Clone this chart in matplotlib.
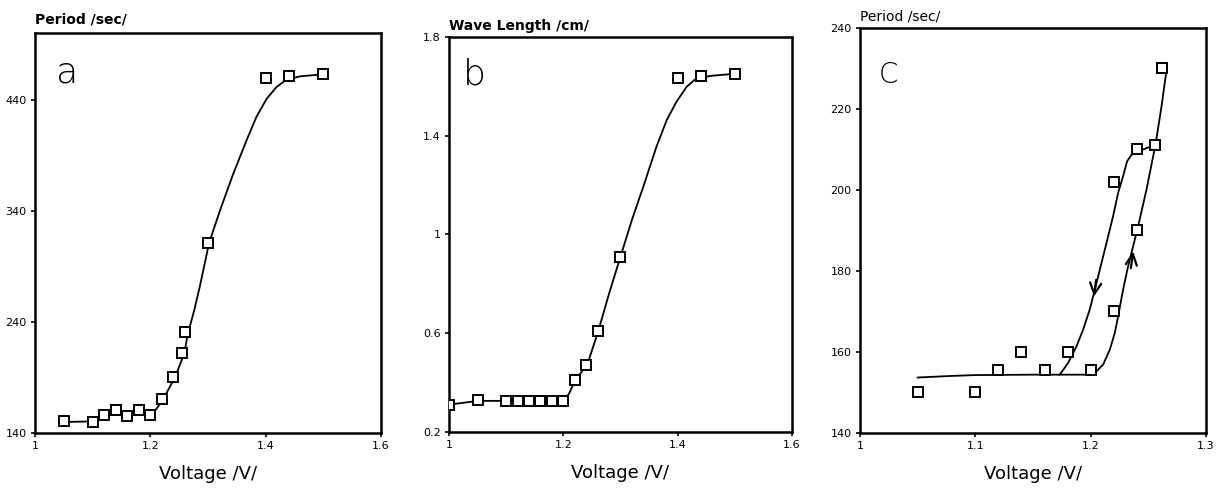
import matplotlib
matplotlib.use("Agg")
import matplotlib.pyplot as plt

# panel a: period vs voltage
a_volt = [1.05, 1.10, 1.12, 1.14, 1.16, 1.18, 1.20, 1.22, 1.24, 1.255, 1.26, 1.30, 1.40, 1.44, 1.50]
a_period = [150.5, 150, 156, 161, 155, 161, 156, 171, 190, 212, 231, 311, 459.5, 461, 463]
a_fit_volt = [1.051, 1.102, 1.121, 1.142, 1.161, 1.183, 1.202, 1.211, 1.223, 1.243, 1.259, 1.265,
              1.276, 1.286, 1.302, 1.321, 1.344, 1.367, 1.384, 1.402, 1.419, 1.436, 1.460, 1.499]
a_fit_period = [149.9, 150.5, 155.9, 158.9, 157.4, 158.6, 157.4, 161.9, 170.9, 190.4, 211.4, 229,
                250, 272, 311, 340.4, 373.4, 403.4, 424.4, 440.9, 451.4, 458, 461, 462.8]

# panel b: wave length vs voltage
b_volt = [1.00, 1.05, 1.10, 1.12, 1.14, 1.16, 1.18, 1.20, 1.22, 1.24, 1.26, 1.30, 1.40, 1.44, 1.50]
b_wave = [0.311, 0.328, 0.326, 0.326, 0.326, 0.326, 0.326, 0.326, 0.41, 0.473, 0.608, 0.91, 1.633, 1.643, 1.651]
b_fit_volt = [1.001, 1.051, 1.10, 1.15, 1.20, 1.21, 1.221, 1.242, 1.261, 1.28, 1.30, 1.32, 1.34,
              1.363, 1.381, 1.398, 1.416, 1.433, 1.46, 1.50]
b_fit_wave = [0.311, 0.326, 0.326, 0.326, 0.326, 0.355, 0.41, 0.473, 0.608, 0.76, 0.91, 1.059, 1.194,
              1.356, 1.464, 1.538, 1.599, 1.633, 1.643, 1.651]

# panel c: hysteresis of period
c_volt = [1.05, 1.10, 1.12, 1.14, 1.16, 1.18, 1.20, 1.22, 1.22, 1.24, 1.24, 1.256, 1.262]
c_period = [150, 150, 155.5, 160, 155.5, 160, 155.5, 170, 202, 190, 210, 211, 230]
c_up_volt = [1.05, 1.08, 1.10, 1.15, 1.2021, 1.2108, 1.2166, 1.2209, 1.2238, 1.2281, 1.2324,
             1.2368, 1.2411, 1.2484, 1.2562, 1.2614, 1.2657]
c_up_period = [153.7, 154.1, 154.3, 154.4, 154.4, 156.9, 160.6, 164.7, 168.8, 175.4, 181.1,
               186.1, 191, 200.1, 211.2, 220.6, 229.5]
c_down_volt = [1.2562, 1.2455, 1.2354, 1.2316, 1.2281, 1.2238, 1.2194, 1.2137, 1.2079, 1.2036,
               1.1992, 1.1934, 1.1877, 1.1804, 1.1732]
c_down_period = [211.2, 210.0, 208.7, 207.1, 203.4, 199.3, 193.5, 186.9, 180.3, 175.4, 170.5,
                 165.5, 161.4, 157.3, 154.4]


def style_axes(ax, xticks, xlabels, yticks, ylabels):
    for sp in ax.spines.values():
        sp.set_linewidth(1.8)
    ax.set_xticks(xticks)
    ax.set_xticklabels(xlabels)
    ax.set_yticks(yticks)
    ax.set_yticklabels(ylabels)
    ax.tick_params(direction='out', length=3, width=1.2, labelsize=8, pad=3)
    ax.set_xlabel("Voltage /V/", fontsize=13, labelpad=10)


def draw_points(ax, x, y):
    ax.plot(x, y, linestyle='none', marker='s', markersize=6.5, markerfacecolor='white',
            markeredgecolor='black', markeredgewidth=1.4, zorder=3)


fig = plt.figure(figsize=(12.26, 4.88), dpi=100)

ax_a = fig.add_axes([0.0285, 0.1127, 0.2822, 0.8197])
ax_a.plot(a_fit_volt, a_fit_period, color='black', lw=1.3)
draw_points(ax_a, a_volt, a_period)
ax_a.set_xlim(1, 1.6)
ax_a.set_ylim(140, 500)
style_axes(ax_a, [1, 1.2, 1.4, 1.6], ['1', '1.2', '1.4', '1.6'],
           [140, 240, 340, 440], ['140', '240', '340', '440'])
ax_a.text(0.0, 1.015, "Period /sec/", transform=ax_a.transAxes, fontsize=10,
          fontweight='bold', ha='left', va='bottom')
ax_a.text(0.06, 0.9, "a", transform=ax_a.transAxes, fontsize=26, fontweight='light',
          ha='left', va='center')

ax_b = fig.add_axes([0.3662, 0.1148, 0.2798, 0.8094])
ax_b.plot(b_fit_volt, b_fit_wave, color='black', lw=1.3)
draw_points(ax_b, b_volt, b_wave)
ax_b.set_xlim(1, 1.6)
ax_b.set_ylim(0.2, 1.8)
style_axes(ax_b, [1, 1.2, 1.4, 1.6], ['1', '1.2', '1.4', '1.6'],
           [0.2, 0.6, 1.0, 1.4, 1.8], ['0.2', '0.6', '1', '1.4', '1.8'])
ax_b.text(0.0, 1.01, "Wave Length /cm/", transform=ax_b.transAxes, fontsize=10,
          fontweight='bold', ha='left', va='bottom')
ax_b.text(0.04, 0.905, "b", transform=ax_b.transAxes, fontsize=26, fontweight='light',
          ha='left', va='center')

ax_c = fig.add_axes([0.7015, 0.1127, 0.2822, 0.830])
ax_c.plot(c_up_volt, c_up_period, color='black', lw=1.3)
ax_c.plot(c_down_volt, c_down_period, color='black', lw=1.3)
draw_points(ax_c, c_volt, c_period)
ax_c.annotate('', xy=(1.2025, 173.0), xytext=(1.2050, 178.5),
              arrowprops=dict(arrowstyle='->', lw=1.6, color='black', mutation_scale=20))
ax_c.annotate('', xy=(1.2372, 185.5), xytext=(1.2345, 180.0),
              arrowprops=dict(arrowstyle='->', lw=1.6, color='black', mutation_scale=20))
ax_c.set_xlim(1, 1.3)
ax_c.set_ylim(140, 240)
style_axes(ax_c, [1, 1.1, 1.2, 1.3], ['1', '1.1', '1.2', '1.3'],
           [140, 160, 180, 200, 220, 240], ['140', '160', '180', '200', '220', '240'])
ax_c.text(0.0, 1.01, "Period /sec/", transform=ax_c.transAxes, fontsize=10,
          ha='left', va='bottom')
ax_c.text(0.055, 0.885, "C", transform=ax_c.transAxes, fontsize=20, fontweight='light',
          ha='left', va='center')

plt.savefig("out.png", dpi=100)
plt.close()
